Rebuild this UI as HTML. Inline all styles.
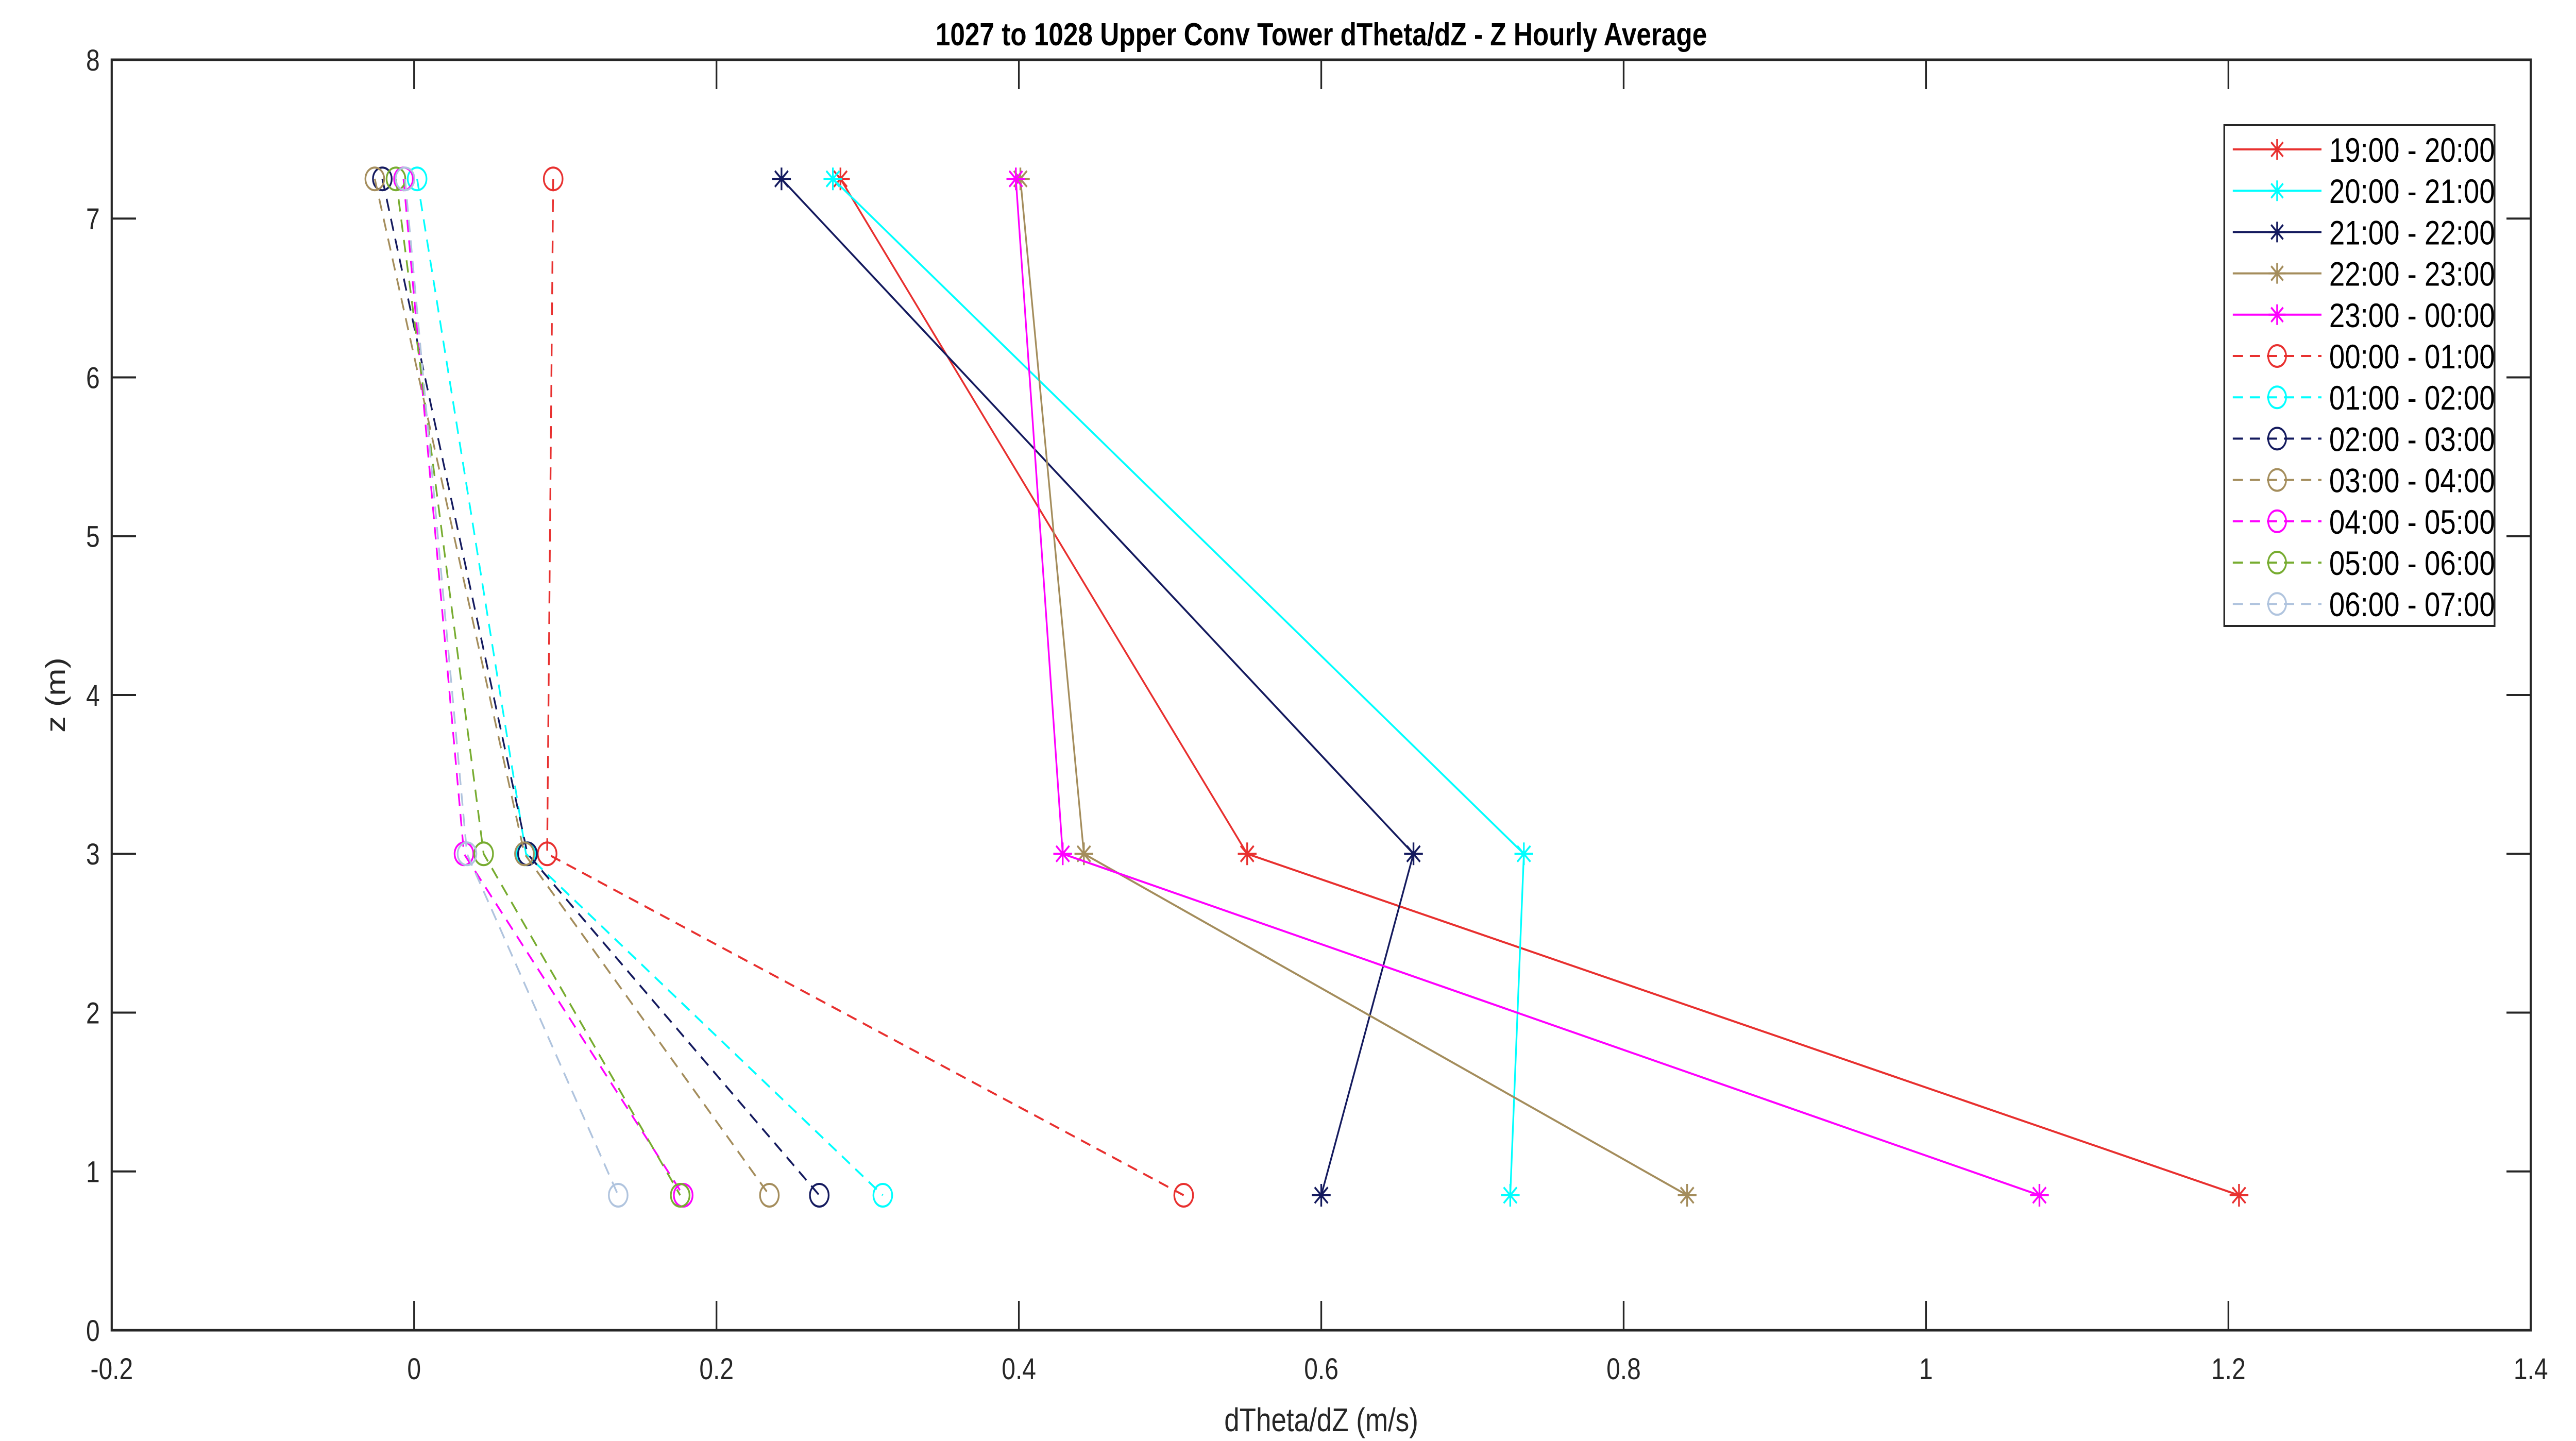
<!DOCTYPE html>
<html><head><meta charset="utf-8"><style>html,body{margin:0;padding:0;background:#fff;overflow:hidden;width:100%;height:100%;}svg{display:block;width:100vw;height:100vh;font-family:"Liberation Sans",Arial,sans-serif;}</style></head>
<body>
<svg id="chart" viewBox="0 0 6042 2797" preserveAspectRatio="none" xmlns="http://www.w3.org/2000/svg">
<rect width="6042" height="2797" fill="#fff"/>
<g id="plot"></g>
</svg>
<script>
const seriesNames=["19:00 - 20:00","20:00 - 21:00","21:00 - 22:00","22:00 - 23:00","23:00 - 00:00","00:00 - 01:00","01:00 - 02:00","02:00 - 03:00","03:00 - 04:00","04:00 - 05:00","05:00 - 06:00","06:00 - 07:00"];
const heights=[7.25,3,0.85];
const s1920=[0.282,0.551,1.207];
const s2021=[0.277,0.734,0.725];
const s2122=[0.243,0.661,0.600];
const s2223=[0.401,0.443,0.842];
const s2300=[0.398,0.429,1.075];
const s0001=[0.092,0.088,0.509];
const s0102=[0.002,0.074,0.310];
const s0203=[-0.021,0.075,0.268];
const s0304=[-0.026,0.073,0.235];
const s0405=[-0.007,0.033,0.178];
const s0506=[-0.012,0.046,0.176];
const s0607=[-0.006,0.035,0.135];
const xTicks=[-0.2,0,0.2,0.4,0.6,0.8,1,1.2,1.4];
const yTicks=[0,1,2,3,4,5,6,7,8];
const allSeries=[s1920,s2021,s2122,s2223,s2300,s0001,s0102,s0203,s0304,s0405,s0506,s0607];
const colors=["#e8302f","#00ffff","#141a5e","#a48d5c","#ff00ff","#e8302f","#00ffff","#141a5e","#a48d5c","#ff00ff","#77ac30","#b0c4de"];
const L=262,R=5936,T=116,B=2582;
const xs=v=>L+(v+0.2)/1.6*(R-L);
const ys=v=>B-v/8*(B-T);
const NS="http://www.w3.org/2000/svg";
const g=document.getElementById('plot');
function mk(t,a,p){const e=document.createElementNS(NS,t);for(const k in a)e.setAttribute(k,a[k]);(p||g).appendChild(e);return e;}
function star(cx,cy,r,c,p){const d=`M${cx-r},${cy}H${cx+r}M${cx},${cy-r}V${cy+r}M${cx-r*0.7},${cy-r*0.7}L${cx+r*0.7},${cy+r*0.7}M${cx-r*0.7},${cy+r*0.7}L${cx+r*0.7},${cy-r*0.7}`;return mk('path',{d:d,stroke:c,'stroke-width':4,fill:'none'},p);}
const box=mk('rect',{x:L,y:T,width:R-L,height:B-T,fill:'none',stroke:'#262626','stroke-width':5});


xTicks.forEach(v=>{const x=xs(v);
 mk('path',{d:`M${x},${B}V${B-57}M${x},${T}V${T+57}`,stroke:'#262626','stroke-width':4});
 const t=mk('text',{x:x,y:B+95,'font-size':58,'text-anchor':'middle',fill:'#262626'});t.textContent=String(v);
 
 });
yTicks.forEach(v=>{const y=ys(v);
 mk('path',{d:`M${L},${y}H${L+57}M${R},${y}H${R-57}`,stroke:'#262626','stroke-width':4});
 const t=mk('text',{x:L-28,y:y+21,'font-size':58,'text-anchor':'end',fill:'#262626'});t.textContent=String(v);
 
 });
allSeries.forEach((s,i)=>{const c=colors[i];const dashed=i>=5;
 const grp=mk('g',{});
 
 
 const pts=s.map((v,j)=>xs(v)+','+ys(heights[j])).join(' ');
 const pl=mk('polyline',{points:pts,fill:'none',stroke:c,'stroke-width':4},grp);
 if(dashed)pl.setAttribute('stroke-dasharray','24 16');
 s.forEach((v,j)=>{const cx=xs(v),cy=ys(heights[j]);
  if(dashed)mk('circle',{cx:cx,cy:cy,r:22,fill:'none',stroke:c,'stroke-width':4},grp);
  else star(cx,cy,22,c,grp);});});
const lg=mk('g',{});


mk('rect',{x:5217,y:243,width:634,height:972,fill:'#fff',stroke:'#262626','stroke-width':4},lg);
seriesNames.forEach((n,i)=>{const y=290+i*80.2;const c=colors[i];const dashed=i>=5;
 const e=mk('g',{},lg);
 
 
 const ln=mk('line',{x1:5237,x2:5445,y1:y,y2:y,stroke:c,'stroke-width':4},e);
 if(dashed)ln.setAttribute('stroke-dasharray','24 16');
 if(dashed)mk('circle',{cx:5341,cy:y,r:21,fill:'none',stroke:c,'stroke-width':4},e);else star(5341,y,20,c,e);
 const t=mk('text',{x:5463,y:y+24,'font-size':66,fill:'#000'},e);t.textContent=n;});
const ti=mk('text',{x:(L+R)/2,y:88,'font-size':62,'font-weight':'bold','text-anchor':'middle',fill:'#000'});ti.textContent='1027 to 1028 Upper Conv Tower dTheta/dZ - Z Hourly Average';


const xl=mk('text',{x:(L+R)/2,y:2778,'font-size':64,'text-anchor':'middle',fill:'#262626'});xl.textContent='dTheta/dZ (m/s)';


const yl=mk('text',{x:0,y:0,'font-size':64,'text-anchor':'middle',fill:'#262626',transform:`translate(152,${(T+B)/2}) rotate(-90)`});yl.textContent='z (m)';


</script>
</body></html>
